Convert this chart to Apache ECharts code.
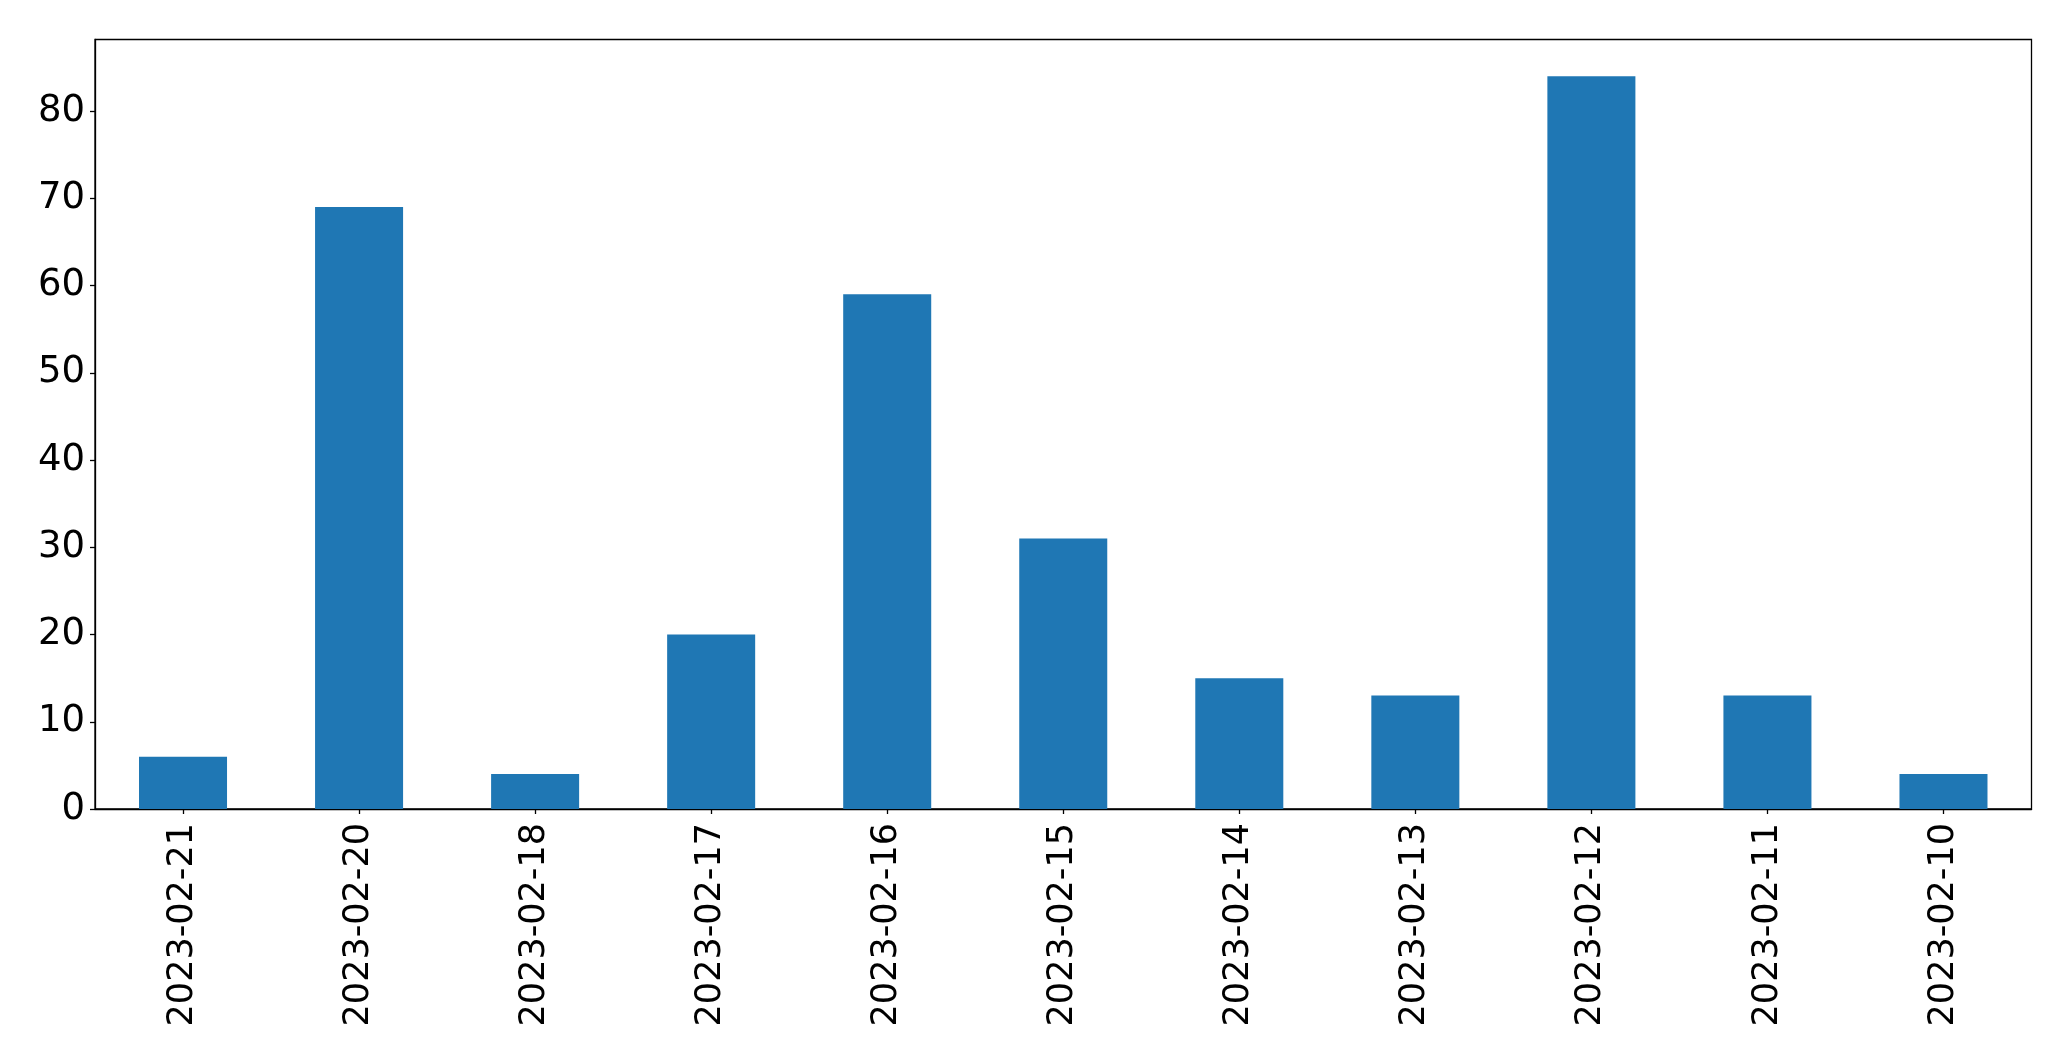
<!DOCTYPE html>
<html>
<head>
<meta charset="utf-8">
<script src="https://cdn.jsdelivr.net/npm/echarts@6/dist/echarts.min.js"></script>
<style>
html,body{margin:0;padding:0;background:#fff;}
#chart{width:2071px;height:1061px;}
</style>
</head>
<body>
<div id="chart"></div>
<script>
const categories = ["2023-02-21","2023-02-20","2023-02-18","2023-02-17","2023-02-16","2023-02-15","2023-02-14","2023-02-13","2023-02-12","2023-02-11","2023-02-10"];
const values = [6, 69, 4, 20, 59, 31, 15, 13, 84, 13, 4];
const yTicks = [0, 10, 20, 30, 40, 50, 60, 70, 80];

const chart = echarts.init(document.getElementById('chart'), null, {renderer: 'canvas'});
const font = 'DejaVu Sans';
chart.setOption({
  animation: false,
  backgroundColor: '#fff',
  grid: {left: 95, right: 39.5, top: 39.5, bottom: 252, show: true, borderColor: '#000', borderWidth: 1.3, backgroundColor: 'transparent'},
  xAxis: {
    type: 'category',
    data: categories,
    boundaryGap: true,
    axisLine: {show: true, lineStyle: {color: '#000', width: 1.3}},
    axisTick: {show: true, alignWithLabel: true, inside: false, length: 5, lineStyle: {color: '#000', width: 1.3}},
    axisLabel: {rotate: 90, fontFamily: font, fontSize: 35, color: '#000', margin: 14, interval: 0},
    splitLine: {show: false}
  },
  yAxis: {
    type: 'value',
    min: 0,
    max: 88.2,
    interval: 10,
    axisLine: {show: true, lineStyle: {color: '#000', width: 1.3}},
    axisTick: {show: true, inside: false, length: 5, customValues: yTicks, lineStyle: {color: '#000', width: 1.3}},
    axisLabel: {fontFamily: font, fontSize: 37, color: '#000', margin: 10, customValues: yTicks,
      formatter: function(v){ return yTicks.indexOf(v) >= 0 ? String(v) : ''; }},
    splitLine: {show: false}
  },
  series: [{
    type: 'bar',
    data: values,
    barCategoryGap: '50%',
    itemStyle: {color: '#1f77b4'}
  }]
});
</script>
</body>
</html>
